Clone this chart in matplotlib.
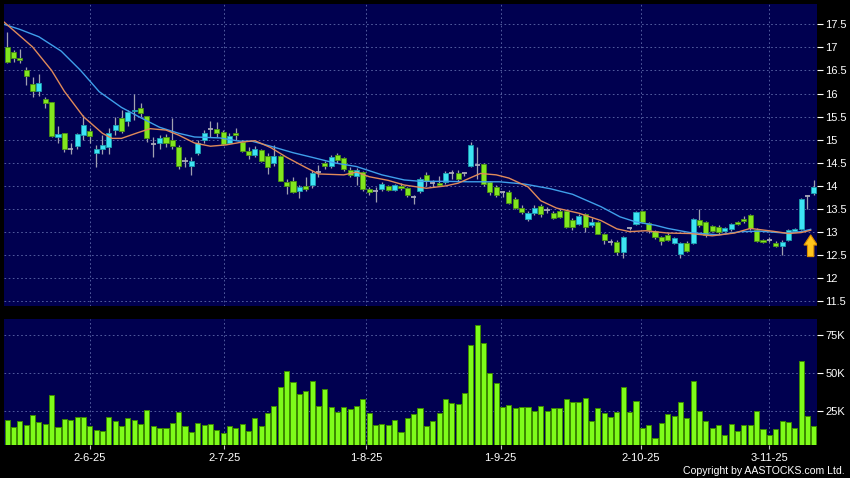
import numpy as np
import matplotlib
matplotlib.use("Agg")
import matplotlib.pyplot as plt
from matplotlib.patches import Polygon

plt.rcParams["font.family"] = ["Liberation Sans", "DejaVu Sans"]

# ---- daily candles (oldest first) ----
opens = [17.01, 16.89, 16.78, 16.52, 16.20, 16.06, 15.88, 15.81, 15.05, 15.14,
         14.81, 14.87, 15.10, 15.18, 14.72, 14.79, 14.84, 15.21, 15.47, 15.40,
         15.63, 15.68, 15.51, 14.90, 14.94, 15.06, 15.00, 14.84, 14.54, 14.43,
         14.71, 15.00, 15.23, 15.23, 15.17, 14.94, 15.14, 14.96, 14.76, 14.67,
         14.78, 14.65, 14.49, 14.65, 14.08, 14.11, 13.89, 14.00, 14.02, 14.31,
         14.49, 14.43, 14.68, 14.60, 14.34, 14.21, 14.31, 13.93, 13.90, 13.93,
         14.00, 13.91, 14.00, 13.95, 13.75, 13.89, 14.24, 14.07, 14.07, 14.09,
         14.27, 14.29, 14.27, 14.43, 14.45, 14.47, 14.09, 13.97, 13.87, 13.87,
         13.71, 13.53, 13.28, 13.41, 13.57, 13.48, 13.42, 13.46, 13.46, 13.26,
         13.18, 13.39, 13.15, 13.22, 12.95, 12.79, 12.79, 12.56, 13.08, 13.18,
         13.46, 13.20, 13.03, 12.89, 12.94, 12.77, 12.53, 12.77, 12.77, 13.26,
         13.22, 13.13, 13.12, 13.03, 13.06, 13.21, 13.28, 13.37, 13.05, 12.83,
         12.83, 12.76, 12.70, 12.83, 13.03, 13.06, 13.78, 13.84]
highs = [17.34, 16.94, 16.96, 16.57, 16.35, 16.42, 15.93, 15.82, 15.30, 15.15,
         14.92, 15.14, 15.53, 15.25, 14.88, 15.10, 15.25, 15.50, 15.65, 15.65,
         16.00, 15.79, 15.52, 15.06, 15.10, 15.12, 15.48, 14.88, 14.63, 14.63,
         14.99, 15.22, 15.40, 15.39, 15.22, 15.15, 15.25, 15.00, 14.84, 14.86,
         14.80, 14.71, 14.88, 14.66, 14.14, 14.20, 14.02, 14.20, 14.34, 14.45,
         14.55, 14.68, 14.72, 14.62, 14.40, 14.38, 14.33, 13.98, 13.98, 14.08,
         14.02, 14.05, 14.06, 13.98, 13.80, 14.20, 14.30, 14.12, 14.22, 14.33,
         14.35, 14.35, 14.30, 14.96, 14.85, 14.50, 14.10, 14.02, 13.90, 13.92,
         13.75, 13.58, 13.45, 13.58, 13.60, 13.55, 13.45, 13.50, 13.48, 13.30,
         13.40, 13.42, 13.30, 13.25, 12.98, 12.85, 12.82, 12.92, 13.10, 13.45,
         13.48, 13.22, 13.05, 12.92, 12.98, 12.90, 12.79, 12.80, 13.30, 13.50,
         13.25, 13.16, 13.15, 13.10, 13.20, 13.25, 13.35, 13.40, 13.08, 12.86,
         12.90, 12.80, 12.82, 13.07, 13.08, 13.73, 13.80, 14.13]
lows = [16.66, 16.69, 16.67, 16.18, 15.93, 15.95, 15.68, 15.05, 14.92, 14.74,
        14.70, 14.81, 14.99, 14.92, 14.40, 14.70, 14.70, 15.10, 15.14, 15.30,
        15.42, 15.50, 14.96, 14.62, 14.80, 14.85, 14.81, 14.36, 14.40, 14.24,
        14.68, 14.92, 15.06, 15.06, 14.88, 14.90, 14.99, 14.73, 14.58, 14.62,
        14.52, 14.26, 14.44, 14.10, 13.82, 13.85, 13.73, 13.90, 13.95, 14.20,
        14.36, 14.38, 14.50, 14.33, 14.20, 14.02, 13.90, 13.80, 13.66, 13.90,
        13.88, 13.90, 13.92, 13.77, 13.61, 13.85, 14.00, 13.98, 14.00, 14.05,
        14.15, 14.10, 14.22, 14.42, 14.16, 14.00, 13.80, 13.75, 13.75, 13.60,
        13.50, 13.40, 13.25, 13.38, 13.32, 13.42, 13.28, 13.30, 13.08, 13.05,
        13.15, 13.00, 13.10, 12.95, 12.75, 12.72, 12.50, 12.44, 13.04, 13.15,
        13.20, 12.98, 12.85, 12.73, 12.80, 12.74, 12.43, 12.58, 12.75, 13.12,
        12.90, 13.00, 12.97, 13.00, 13.02, 13.15, 13.20, 13.05, 12.78, 12.76,
        12.78, 12.67, 12.50, 12.80, 13.00, 13.04, 13.51, 13.80]
closes = [16.69, 16.78, 16.73, 16.37, 16.06, 16.24, 15.80, 15.09, 15.12, 14.81,
          14.81, 15.12, 15.32, 15.08, 14.79, 14.88, 15.15, 15.33, 15.18, 15.61,
          15.64, 15.59, 15.03, 14.90, 15.03, 14.92, 14.86, 14.44, 14.54, 14.55,
          14.94, 15.14, 15.23, 15.15, 14.90, 15.08, 15.10, 14.76, 14.67, 14.79,
          14.55, 14.42, 14.65, 14.11, 14.00, 13.87, 13.97, 13.93, 14.29, 14.31,
          14.43, 14.63, 14.56, 14.36, 14.24, 14.34, 13.93, 13.87, 13.90, 14.05,
          13.91, 14.01, 13.95, 13.80, 13.75, 14.14, 14.11, 14.07, 14.02, 14.29,
          14.27, 14.16, 14.27, 14.88, 14.45, 14.04, 13.87, 13.80, 13.87, 13.62,
          13.52, 13.44, 13.41, 13.52, 13.39, 13.48, 13.30, 13.33, 13.12, 13.10,
          13.35, 13.12, 13.22, 12.97, 12.82, 12.79, 12.58, 12.89, 13.08, 13.43,
          13.22, 13.05, 12.90, 12.81, 12.83, 12.87, 12.77, 12.60, 13.28, 13.16,
          12.94, 13.03, 13.01, 13.08, 13.18, 13.18, 13.25, 13.08, 12.81, 12.79,
          12.83, 12.70, 12.79, 13.05, 13.06, 13.71, 13.78, 13.98]

# volume in thousands of shares
volumes_k = [19.1, 14.3, 18.4, 15.8, 22.4, 17.5, 16.4, 35.3, 14.7, 19.5,
             19.1, 21.3, 20.8, 15.1, 12.5, 12.1, 20.8, 18.4, 15.4, 20.2,
             19.1, 16.2, 25.7, 15.1, 13.6, 13.8, 17.3, 24.1, 15.4, 11.2,
             16.9, 15.8, 16.7, 12.3, 10.7, 14.9, 13.8, 16.4, 11.6, 20.2,
             15.4, 23.9, 28.5, 41.0, 51.3, 44.3, 36.0, 38.4, 44.5, 28.3,
             39.3, 27.8, 24.6, 27.8, 26.3, 28.3, 32.7, 23.5, 15.8, 16.4,
             15.8, 19.1, 11.2, 20.6, 22.8, 27.2, 15.4, 18.6, 23.5, 32.7,
             30.5, 29.6, 36.6, 68.4, 81.6, 69.9, 49.8, 43.2, 27.8, 28.9,
             26.8, 27.4, 27.8, 25.0, 28.3, 24.8, 26.8, 27.0, 32.7, 31.1,
             30.7, 33.4, 18.6, 27.2, 23.9, 21.0, 24.6, 40.6, 24.3, 31.8,
             14.0, 15.6, 7.0, 16.9, 23.0, 21.7, 31.1, 20.2, 44.9, 25.2,
             18.6, 13.6, 15.8, 9.0, 16.2, 11.6, 15.6, 15.8, 25.0, 13.0,
             9.2, 13.4, 18.4, 17.8, 14.0, 57.9, 21.7, 15.1]

# moving averages (bar position, value)
ma_fast_pos = [-0.5, 2, 4, 7, 9, 12, 15, 16.5, 18, 20.5,
               22.5, 25, 27, 29.5, 32, 34.5, 37, 39, 41.5, 44,
               47, 49, 53, 55, 57, 60, 62.5, 66, 69, 71,
               74.5, 77, 79, 82, 84, 86.5, 90, 93.5, 96, 98,
               100.5, 104, 107.5, 111, 114.5, 117, 120.5, 123, 125, 126.5]
ma_fast = [17.55, 17.25, 17.01, 16.50, 16.05, 15.50, 15.14, 15.03, 15.03, 15.15,
           15.24, 15.21, 15.10, 14.93, 14.86, 14.89, 14.95, 14.98, 14.83, 14.62,
           14.40, 14.26, 14.24, 14.30, 14.20, 14.12, 14.02, 13.95, 14.00, 14.06,
           14.27, 14.24, 14.17, 13.98, 13.68, 13.52, 13.41, 13.25, 13.07, 13.01,
           13.03, 12.98, 12.97, 12.92, 12.98, 13.08, 13.02, 12.97, 12.99, 13.04]
ma_slow_pos = [-0.5, 2, 5, 8.5, 11.5, 14.5, 18, 21, 24, 27,
               29.5, 33.5, 36.5, 38.5, 41.5, 45, 48, 51.5, 55, 59,
               62.5, 65, 69, 72.5, 77.5, 81.5, 85.5, 89, 93.5, 96.5,
               99, 102, 104, 107.5, 112, 115.5, 118.5, 122.5, 125, 126.5]
ma_slow = [17.50, 17.39, 17.23, 16.92, 16.51, 16.04, 15.70, 15.48, 15.27, 15.14,
           15.06, 15.04, 14.97, 14.97, 14.86, 14.72, 14.62, 14.50, 14.42, 14.24,
           14.13, 14.10, 14.10, 14.09, 14.09, 14.04, 13.94, 13.82, 13.55, 13.33,
           13.22, 13.15, 13.08, 12.99, 12.94, 13.01, 13.02, 12.98, 13.01, 13.06]

date_ticks = [13, 34.2, 56.5, 77.7, 99.8, 120]
date_labels = ["2-6-25", "2-7-25", "1-8-25", "1-9-25", "2-10-25", "3-11-25"]
price_ticks = [17.5, 17, 16.5, 16, 15.5, 15, 14.5, 14, 13.5, 13, 12.5, 12, 11.5]
vol_ticks = [25, 50, 75]
vol_labels = ["25K", "50K", "75K"]

# arrow marker at the right end
arrow_x = 126.5
arrow_tip = 12.94

# ---- style ----
BG = "#000050"
GRID = "#5f6bab"
UP, UP_EDGE = "#3de4f4", "#1c9fb0"
DN, DN_EDGE = "#82e61e", "#4a9312"
DOJI = "#a9a9b8"
WICK = "#a0a0b0"
VOL, VOL_EDGE = "#7efc1a", "#3c8a00"

o = np.array(opens); h = np.array(highs); l = np.array(lows); c = np.array(closes)
idx = np.arange(len(c))

fig = plt.figure(figsize=(8.5, 4.78), dpi=100, facecolor="black")
ax = fig.add_axes([4 / 850, 1 - 306 / 478, 813 / 850, 302 / 478])
axv = fig.add_axes([4 / 850, 1 - 445 / 478, 813 / 850, 126 / 478])

for a in (ax, axv):
    a.set_facecolor(BG)
    for s in a.spines.values():
        s.set_visible(False)
    a.set_xlim(-0.5, len(c) - 0.5)
    a.set_xticks(date_ticks)
    a.yaxis.tick_right()
    a.grid(True, color=GRID, linestyle=(0, (2, 3)), linewidth=0.6)
    a.set_axisbelow(True)
    a.tick_params(axis="y", colors="white", labelcolor="white", length=4,
                  width=0.8, pad=2, labelsize=8)

# price panel
ax.set_ylim(11.40, 17.94)
ax.set_yticks(price_ticks)
ax.set_yticklabels([f"{v:g}" for v in price_ticks])
ax.tick_params(axis="x", length=0, labelbottom=False)

ax.vlines(idx, l, h, color=WICK, linewidth=0.9, zorder=2)
up = c > o
dn = c < o
eq = c == o
ax.bar(idx[up], (c - o)[up], bottom=o[up], width=0.8, color=UP,
       edgecolor=UP_EDGE, linewidth=0.6, zorder=3)
ax.bar(idx[dn], (o - c)[dn], bottom=c[dn], width=0.8, color=DN,
       edgecolor=DN_EDGE, linewidth=0.6, zorder=3)
ax.hlines(c[eq], idx[eq] - 0.42, idx[eq] + 0.42, color=DOJI, linewidth=1.3, zorder=3)

ax.plot(ma_slow_pos, ma_slow, color="#3f9fea", linewidth=1.0, zorder=4)
ax.plot(ma_fast_pos, ma_fast, color="#e08a5a", linewidth=1.0, zorder=4)

arrow = Polygon([(arrow_x, arrow_tip), (arrow_x + 1.05, arrow_tip - 0.22),
                 (arrow_x + 0.5, arrow_tip - 0.22), (arrow_x + 0.5, arrow_tip - 0.47),
                 (arrow_x - 0.5, arrow_tip - 0.47), (arrow_x - 0.5, arrow_tip - 0.22),
                 (arrow_x - 1.05, arrow_tip - 0.22)],
                closed=True, facecolor="#ffc41c", edgecolor="#d98c00",
                linewidth=0.8, zorder=5)
ax.add_patch(arrow)

# volume panel
axv.set_ylim(2.6, 85.5)
axv.set_yticks(vol_ticks)
axv.set_yticklabels(vol_labels)
axv.bar(idx, volumes_k, width=0.8, color=VOL, edgecolor=VOL_EDGE,
        linewidth=0.7, zorder=3)
axv.set_xticklabels(date_labels)
axv.tick_params(axis="x", colors="#c0c0c0", labelcolor="white", length=3,
                width=0.8, pad=3, labelsize=8)

fig.text(845 / 850, 1 - 471 / 478, "Copyright by AASTOCKS.com Ltd.",
         color="white", fontsize=7.6, ha="right", va="center")

fig.savefig("out.png", dpi=100, facecolor="black")
